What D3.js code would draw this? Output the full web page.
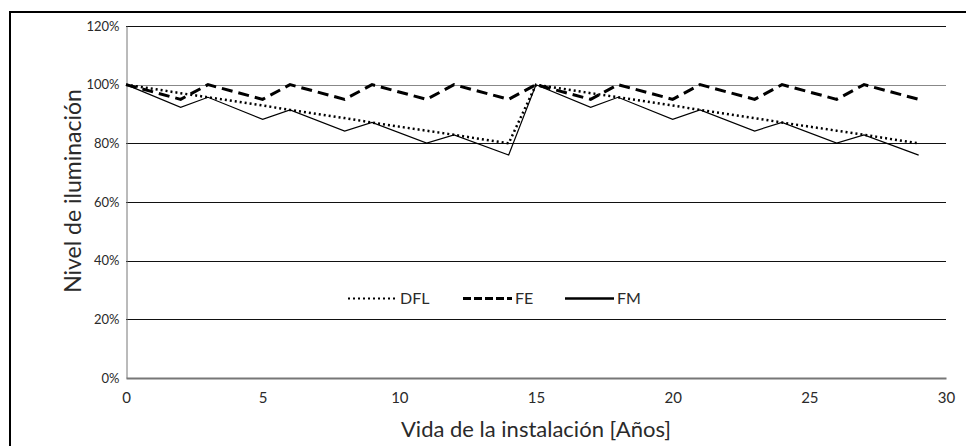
<!DOCTYPE html>
<html>
<head>
<meta charset="utf-8">
<script src="https://cdn.jsdelivr.net/npm/d3@7"></script>
<style>
  body { margin: 0; background: #fff; }
  text { font-family: Lato, "Open Sans", sans-serif; fill: #2a2a2a; }
</style>
</head>
<body>
<script>
// years where the curves have a vertex
var years = [0, 2, 3, 5, 6, 8, 9, 11, 12, 14, 15, 17, 18, 20, 21, 23, 24, 26, 27, 29];

// illumination level, %
var dfl = [100, 97.1, 95.7, 92.9, 91.4, 88.6, 87.1, 84.3, 82.9, 80,
           100, 97.1, 95.7, 92.9, 91.4, 88.6, 87.1, 84.3, 82.9, 80];
var fe  = [100, 95, 100, 95, 100, 95, 100, 95, 100, 95,
           100, 95, 100, 95, 100, 95, 100, 95, 100, 95];
var fm  = [100, 92.3, 95.7, 88.2, 91.4, 84.2, 87.1, 80.1, 82.9, 76,
           100, 92.3, 95.7, 88.2, 91.4, 84.2, 87.1, 80.1, 82.9, 76];

var seriesNames = ["DFL", "FE", "FM"];
var xTicks = [0, 5, 10, 15, 20, 25, 30];
var yTicks = [0, 20, 40, 60, 80, 100, 120];

var width = 966,
    height = 446;

var svg = d3.select("body").append("svg")
    .attr("width", width)
    .attr("height", height)
    .style("display", "block");

// outer frame (runs off the right and bottom edges)
svg.append("rect")
    .attr("x", 10).attr("y", 12)
    .attr("width", 1000).attr("height", 500)
    .attr("fill", "none")
    .attr("stroke", "#000")
    .attr("stroke-width", 2);

var x = d3.scaleLinear().domain([0, 30]).range([126, 946]);
var y = d3.scaleLinear().domain([0, 120]).range([378, 26]);

// horizontal grid lines
svg.append("g").selectAll("line")
    .data(yTicks.filter(function(d) { return d > 0; }))
    .enter().append("line")
    .attr("x1", x(0)).attr("x2", x(30))
    .attr("y1", function(d) { return Math.round(y(d)) + 0.5; })
    .attr("y2", function(d) { return Math.round(y(d)) + 0.5; })
    .attr("stroke", function(d) { return d == 100 ? "#888" : "#111"; })
    .attr("stroke-width", 1);

// y axis
var yAxis = d3.axisLeft(y)
    .tickValues(yTicks)
    .tickSize(0)
    .tickPadding(7)
    .tickFormat(function(d) { return d + "%"; });

var gy = svg.append("g")
    .attr("transform", "translate(126.5,0)")
    .call(yAxis);
gy.select(".domain").attr("stroke", "#777");
gy.selectAll("text").style("font-size", "13px").attr("fill", "#2a2a2a");

// x axis
var xAxis = d3.axisBottom(x)
    .tickValues(xTicks)
    .tickSize(0)
    .tickPadding(14);

var gx = svg.append("g")
    .attr("transform", "translate(0,378)")
    .call(xAxis);
gx.select(".domain").attr("stroke", "#777").attr("stroke-width", 2);
gx.selectAll("text").style("font-size", "15px").attr("fill", "#2a2a2a");

// series
var line = d3.line()
    .x(function(d) { return x(d[0]); })
    .y(function(d) { return y(d[1]); });

var styles = {
    DFL: { width: 2.5, dash: "2,3" },
    FE:  { width: 3, dash: "11,6" },
    FM:  { width: 1.2, dash: null }
};
var values = { DFL: dfl, FE: fe, FM: fm };

seriesNames.forEach(function(name) {
    svg.append("path")
        .datum(years.map(function(t, i) { return [t, values[name][i]]; }))
        .attr("d", line)
        .attr("fill", "none")
        .attr("stroke", "#000")
        .attr("stroke-width", styles[name].width)
        .attr("stroke-dasharray", styles[name].dash)
        .attr("stroke-linejoin", "miter");
});

// legend
var legendX = [348, 463, 565];
var lg = svg.append("g");
seriesNames.forEach(function(name, i) {
    lg.append("line")
        .attr("x1", legendX[i]).attr("x2", legendX[i] + 49)
        .attr("y1", 298.5).attr("y2", 298.5)
        .attr("stroke", "#000")
        .attr("stroke-width", name == "FM" ? 2.5 : (name == "FE" ? 3 : 2))
        .attr("stroke-dasharray", name == "FM" ? null : (name == "FE" ? "8,3" : "2,3"));
    lg.append("text")
        .attr("x", legendX[i] + 52)
        .attr("y", 304)
        .style("font-size", "16px")
        .text(name);
});

// axis titles
svg.append("text")
    .attr("x", 536).attr("y", 437)
    .attr("text-anchor", "middle")
    .style("font-size", "22px")
    .text("Vida de la instalación [Años]");

svg.append("text")
    .attr("transform", "translate(81,191) rotate(-90)")
    .attr("text-anchor", "middle")
    .style("font-size", "23px")
    .text("Nivel de iluminación");
</script>
</body>
</html>
